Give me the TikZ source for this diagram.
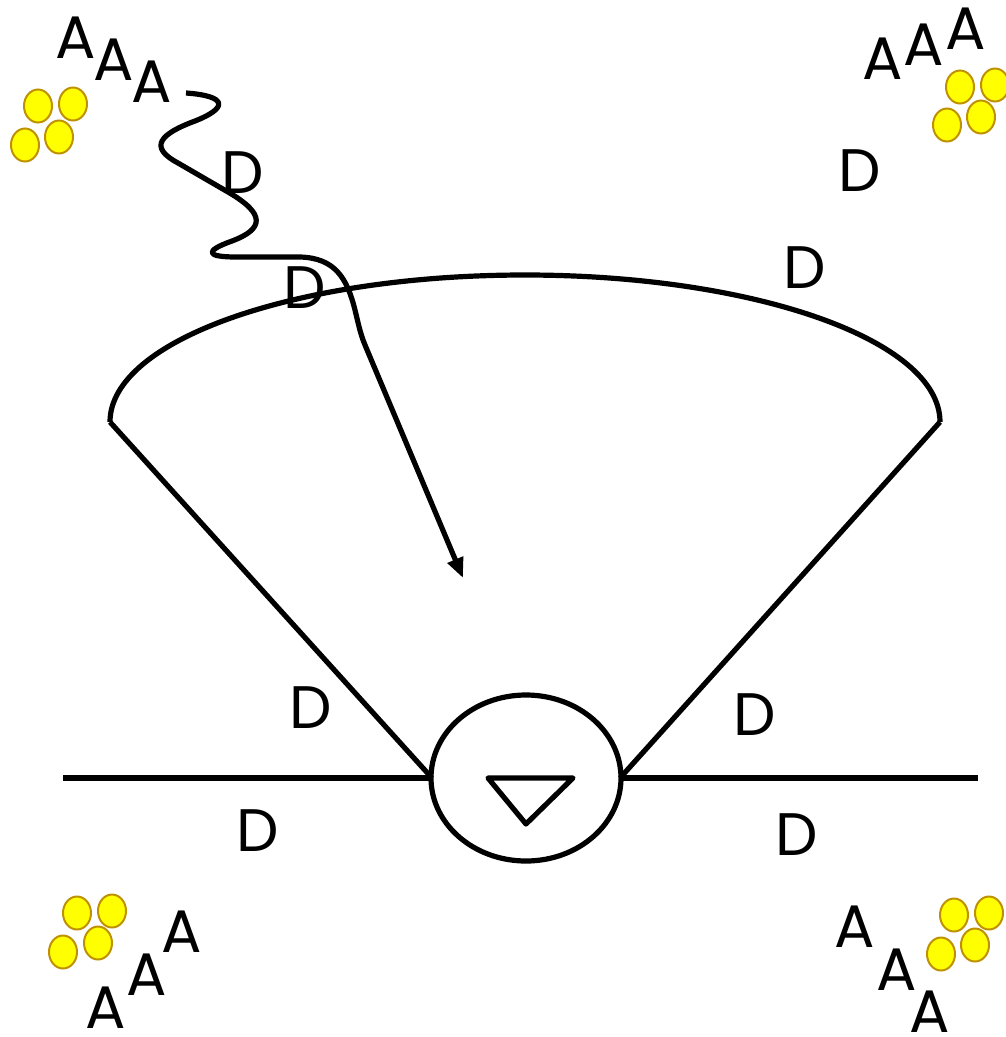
\documentclass[tikz,border=0pt]{standalone}
\usepackage{fontspec}
\setmainfont{Poppins}
\usetikzlibrary{arrows.meta,shapes.geometric}
\definecolor{dotfill}{RGB}{255,255,0}
\definecolor{dotedge}{RGB}{190,145,0}
\begin{document}
\begin{tikzpicture}[x=1pt,y=-1pt,
  lbl/.style={inner sep=0pt,font=\fontsize{60}{60}\selectfont},
  dot/.style={ellipse,draw=dotedge,fill=dotfill,line width=2pt,minimum width=28pt,minimum height=33pt,inner sep=0pt},
  thick line/.style={line width=5.2pt,line join=round}]
\useasboundingbox (0,0) rectangle (1005,1037);
% pump
\node[ellipse,draw,line width=5.2pt,minimum width=190pt,minimum height=166pt,inner sep=0pt] (pump) at (526,778) {};
\coordinate (tl) at (63,778);
\coordinate (tr) at (978,778);
\coordinate (fl) at (110,422);
\coordinate (fr) at (940,422);
\coordinate (pl) at (432,778);
\coordinate (pr) at (620,778);
\coordinate (apex) at (526,824);
\coordinate (tria) at (488,778);
\coordinate (trib) at (573,778);
\draw[thick line] (tl) -- (pl);
\draw[thick line] (pr) -- (tr);
\draw[thick line] (fl) -- (pl);
\draw[thick line] (fr) -- (pr);
\draw[thick line] (fl) .. controls (110,340) and (296,275) .. (525,275)
  .. controls (754,275) and (940,340) .. (fr);
\draw[thick line] (tria) -- (trib) -- (apex) -- cycle;
% wavy arrow
\coordinate (ws) at (186,93);
\coordinate (we) at (463,578);
\draw[thick line,-{Triangle[length=20pt,width=16pt]}] (ws) .. controls (228,96) and (228,108) .. (195,121)
  .. controls (160,134) and (148,147) .. (178,163) -- (228,192)
  .. controls (266,214) and (264,229) .. (232,241)
  .. controls (204,251) and (206,257) .. (236,257) -- (300,257)
  .. controls (335,258) and (347,278) .. (355,310)
  .. controls (358,322) and (360,333) .. (365,345) -- (we);
% D labels
\node[lbl] (d1) at (243,173) {D};
\node[lbl] (d2) at (305,288) {D};
\node[lbl] (d3) at (860,171) {D};
\node[lbl] (d4) at (805,268) {D};
\node[lbl] (d5) at (311,708) {D};
\node[lbl] (d6) at (755,715) {D};
\node[lbl] (d7) at (258,831) {D};
\node[lbl] (d8) at (797,835) {D};
% A labels
\node[lbl] (a1) at (76,38) {A};
\node[lbl] (a2) at (114,60) {A};
\node[lbl] (a3) at (152,82) {A};
\node[lbl] (a4) at (883,59) {A};
\node[lbl] (a5) at (924,45) {A};
\node[lbl] (a6) at (966,29) {A};
\node[lbl] (a7) at (182,932) {A};
\node[lbl] (a8) at (147,975) {A};
\node[lbl] (a9) at (106,1008) {A};
\node[lbl] (a10) at (855,927) {A};
\node[lbl] (a11) at (897,970) {A};
\node[lbl] (a12) at (930,1012) {A};
% dots
\node[dot] (p1) at (38,106) {};
\node[dot] (p2) at (73,104) {};
\node[dot] (p3) at (59,137) {};
\node[dot] (p4) at (25,145) {};
\node[dot] (p5) at (960,87) {};
\node[dot] (p6) at (995,85) {};
\node[dot] (p7) at (981,117) {};
\node[dot] (p8) at (947,125) {};
\node[dot] (p9) at (77,913) {};
\node[dot] (p10) at (112,911) {};
\node[dot] (p11) at (98,943) {};
\node[dot] (p12) at (63,952) {};
\node[dot] (p13) at (954,915) {};
\node[dot] (p14) at (989,913) {};
\node[dot] (p15) at (975,945) {};
\node[dot] (p16) at (941,954) {};
\end{tikzpicture}
\end{document}
